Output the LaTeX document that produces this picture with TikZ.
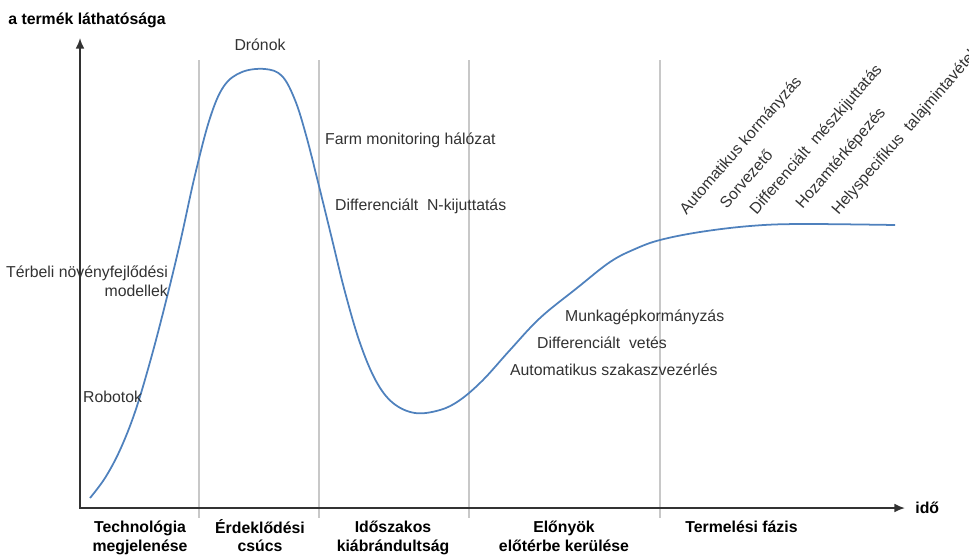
\documentclass[tikz,border=0pt]{standalone}
\usepackage{fontspec}
\setmainfont{Liberation Sans}
\usetikzlibrary{positioning, arrows.meta}
\definecolor{hypeBlue}{RGB}{79, 129, 189}
\definecolor{phaseGray}{RGB}{200, 200, 200}
\definecolor{axisGray}{RGB}{50, 50, 50}

\begin{document}
\begin{tikzpicture}[x=0.02cm, y=-0.02cm, font=\fontsize{9}{10.6}\selectfont,
  tech/.style={inner sep=1pt, text=axisGray},
  phase/.style={font=\fontsize{9}{10.5}\selectfont\bfseries, align=center, anchor=north, inner sep=0pt},
  slanted/.style={anchor=south west, rotate=49, inner sep=0pt, text=axisGray}]
  \useasboundingbox (0,0) rectangle (969,556);

  % Phase separators
  \foreach \x in {199, 319, 469, 660} {
    \draw[phaseGray, line width=1pt] (\x, 60) -- (\x, 518);
  }

  % Axes
  \coordinate (origin) at (80, 508);
  \coordinate (ytip) at (80, 38);
  \coordinate (xtip) at (905, 508);
  \draw[axisGray, line width=1pt, {Latex[length=6pt, width=5pt]}-{Latex[length=6pt, width=5pt]}]
    (ytip) -- (origin) -- (xtip);
  \node[font=\fontsize{9}{10.5}\selectfont\bfseries, anchor=west, inner sep=0pt] (ylabel) at (8, 20) {a termék láthatósága};
  \node[font=\fontsize{9}{10.5}\selectfont\bfseries, right=0.2cm of xtip, inner sep=0pt] (xlabel) {idő};

  % Hype curve
  \draw[hypeBlue, line width=1pt] plot[smooth, tension=0.6] coordinates {
    (90,498) (105,478) (120,450) (135,412) (150,362) (165,305) (180,243)
    (195,175) (210,118) (224,86) (242,72) (265,69) (282,76) (295,100)
    (306,135) (318,182) (331,235) (345,292) (360,343) (376,381) (393,403)
    (415,413) (440,410) (460,400) (483,380) (510,350) (540,318) (577,288)
    (610,262) (635,249) (660,240) (700,232) (750,226) (800,224) (895,225)
  };

  % Technologies along the curve
  \node[tech] (dronok) at (260, 45) {Drónok};
  \node[tech, anchor=west] (farm) at (323, 140) {Farm monitoring hálózat};
  \node[tech, anchor=west] (nkij) at (333, 206) {Differenciált\ \ N-kijuttatás};
  \node[tech, anchor=east, align=right] (modell) at (170, 281) {Térbeli növényfejlődési\\modellek};
  \node[tech, anchor=west] (robot) at (81, 397) {Robotok};
  \node[tech, anchor=west] (munka) at (563, 317) {Munkagépkormányzás};
  \node[tech, anchor=west] (vetes) at (535, 343) {Differenciált\ \ vetés};
  \node[tech, anchor=west] (szakasz) at (508, 370) {Automatikus szakaszvezérlés};

  % Production phase, slanted
  \node[slanted] (kormany) at (689, 218) {Automatikus kormányzás};
  \node[slanted] (sorvez) at (727, 210) {Sorvezető};
  \node[slanted] (mesz) at (759, 218) {Differenciált\ \ mészkijuttatás};
  \node[slanted] (hozam) at (805, 212) {Hozamtérképezés};
  \node[slanted] (talaj) at (841, 218) {Helyspecifikus\ \ talajmintavétel};

  % Phase names
  \node[phase] (p1) at (140, 521) {Technológia\\megjelenése};
  \node[phase] (p2) at (260, 519) {Érdeklődési\\csúcs};
  \node[phase] (p3) at (393, 521) {Időszakos\\kiábrándultság};
  \node[phase] (p4) at (564, 521) {Előnyök\\előtérbe kerülése};
  \node[phase, anchor=north west] (p5) at (685, 521) {Termelési fázis};
\end{tikzpicture}
\end{document}
